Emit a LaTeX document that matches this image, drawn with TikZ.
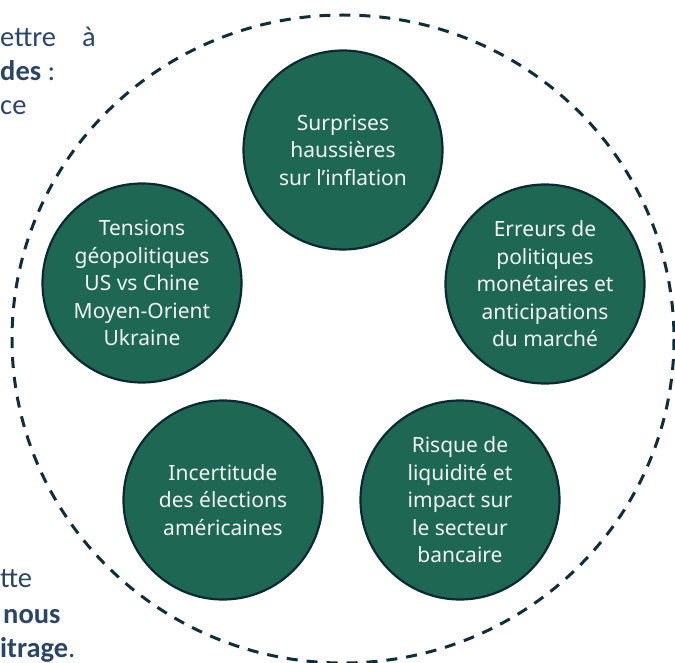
\documentclass[tikz,border=0pt]{standalone}
\usepackage{fontspec}
\setmainfont{Carlito}
\newfontfamily\circfont{Noto Sans}
\definecolor{risk}{HTML}{1E6853}
\definecolor{rimc}{HTML}{0C2834}
\definecolor{dashc}{HTML}{0F2E3C}
\definecolor{sidetxt}{HTML}{2B4566}
\definecolor{circtxt}{HTML}{F2F4F2}
\begin{document}
\begin{tikzpicture}[x=1pt,y=-1pt,
  riskcirc/.style={circle, fill=risk, draw=rimc, line width=2.2pt,
    minimum size=199pt, inner sep=0pt, align=center, text=circtxt,
    font=\circfont\fontsize{21}{27.5}\selectfont},
  sidetext/.style={anchor=base west, inner sep=0pt, text=sidetxt,
    font=\fontsize{28.5}{33}\selectfont}]
\useasboundingbox (0,0) rectangle (675,663);
\clip (0,0) rectangle (675,663);
% outer dashed ring
\draw[dashc, line width=3pt, dash pattern=on 11pt off 9pt] (343,339) ellipse [x radius=331, y radius=324];
% risk circles
\node[riskcirc] (infl) at (343,150) {Surprises\\haussières\\sur l’inflation};
\node[riskcirc] (geo) at (142,283) {Tensions\\géopolitiques\\US vs Chine\\Moyen-Orient\\Ukraine};
\node[riskcirc] (mon) at (545,284) {Erreurs de\\politiques\\monétaires et\\anticipations\\du marché};
\node[riskcirc] (elec) at (223,500) {Incertitude\\des élections\\américaines};
\node[riskcirc] (liq) at (460,500) {Risque de\\liquidité et\\impact sur\\le secteur\\bancaire};
% cut-off side text
\node[sidetext] (ta) at (0,47) {ettre};
\node[sidetext] (tb) at (82,47) {à};
\node[sidetext] (tc) at (0,81) {\textbf{des} :};
\node[sidetext] (td) at (0,115) {ce};
\node[sidetext] (te) at (0,587) {tte};
\node[sidetext] (tf) at (3,623) {\textbf{nous}};
\node[sidetext] (tg) at (0,657) {\textbf{itrage}.};
\end{tikzpicture}
\end{document}
